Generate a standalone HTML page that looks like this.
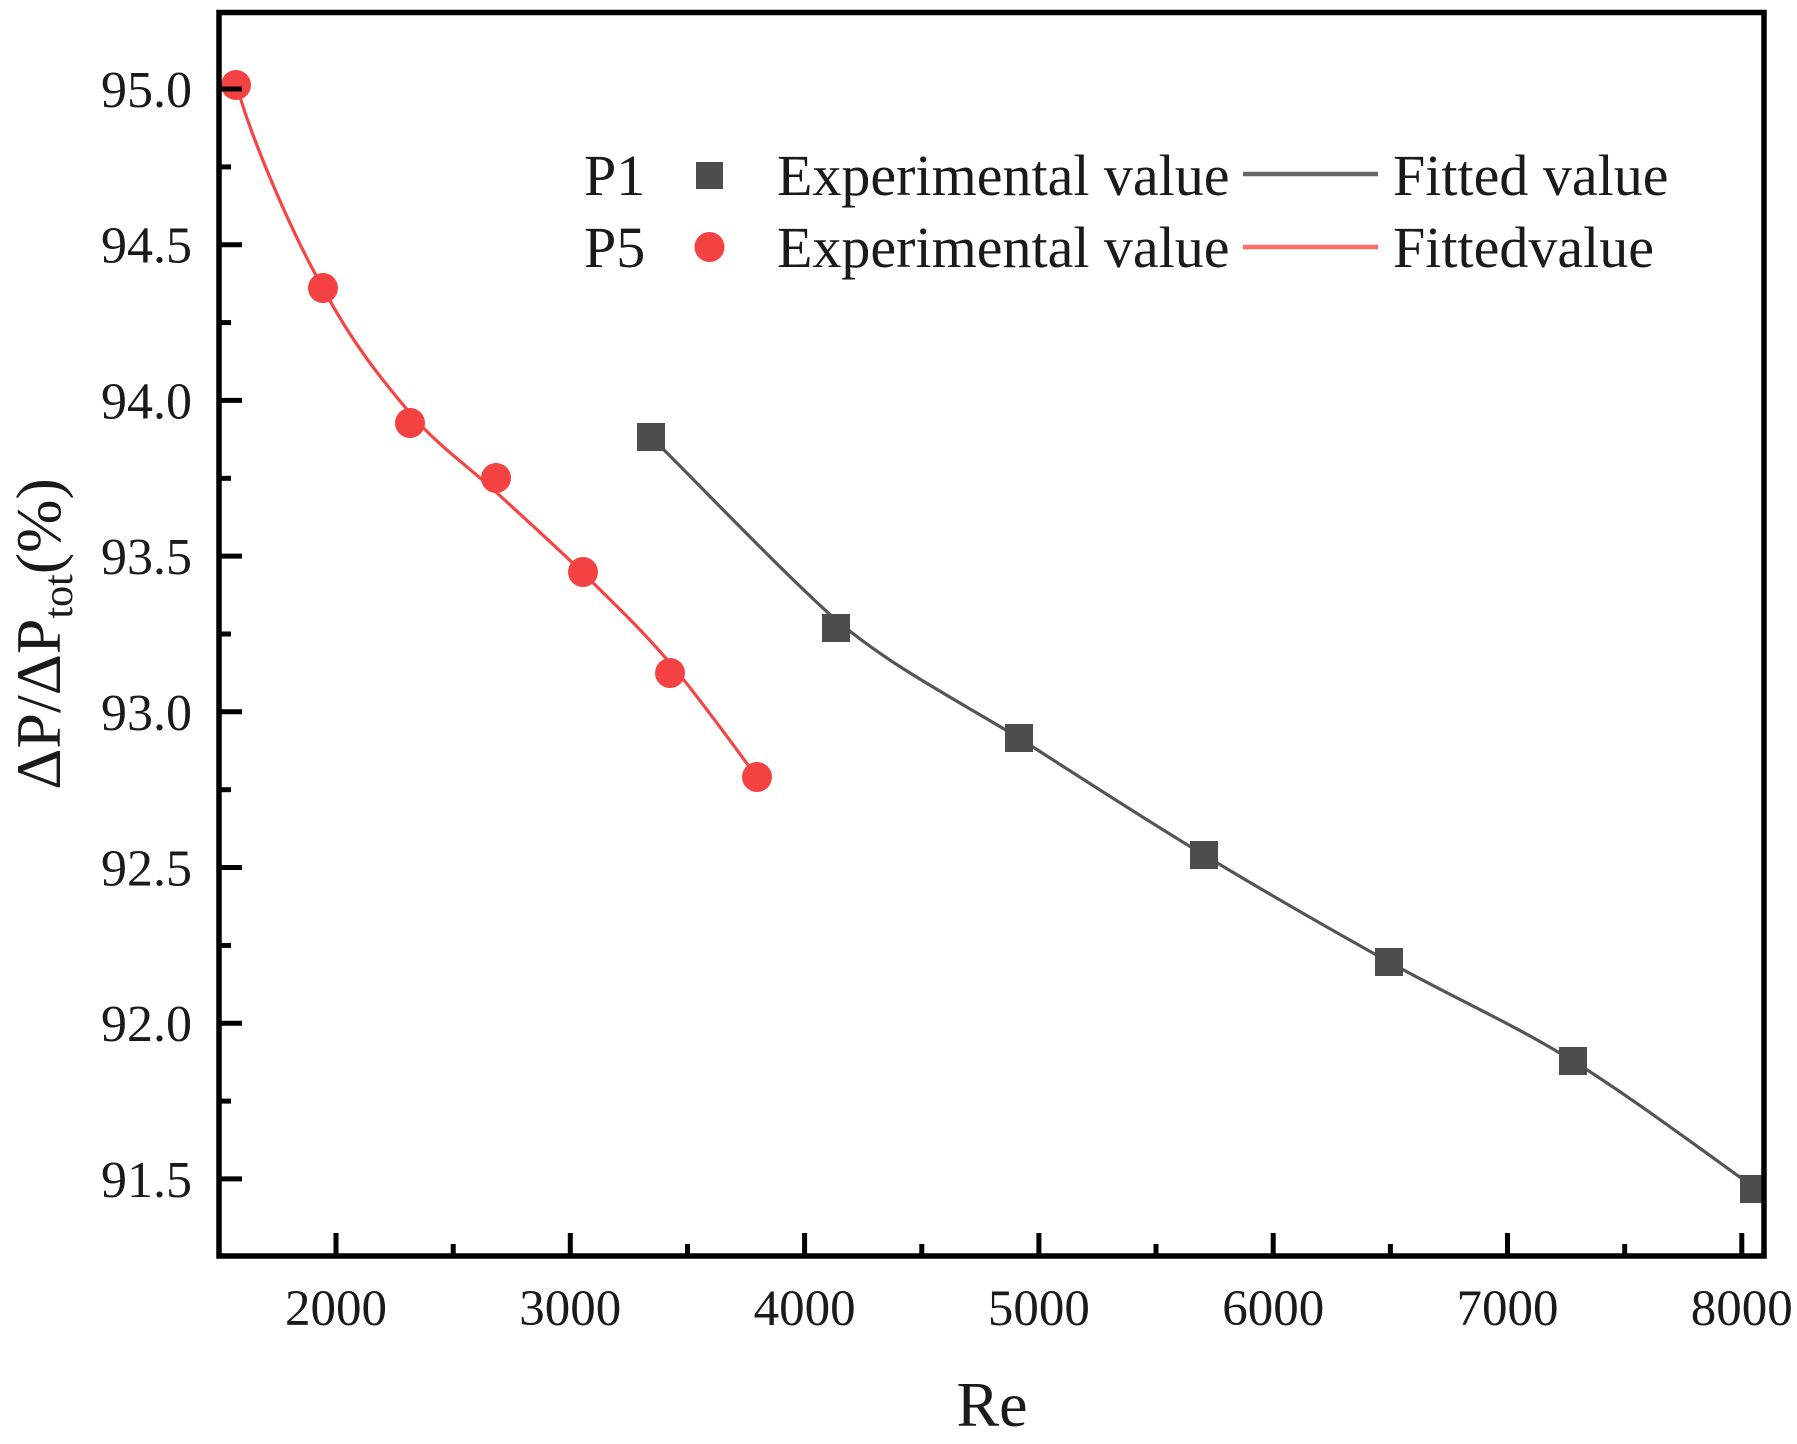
<!DOCTYPE html>
<html>
<head>
<meta charset="utf-8">
<style>
  html, body { margin: 0; padding: 0; background: #ffffff; }
  svg { display: block; }
  text { font-family: "Liberation Serif", "Times New Roman", serif; fill: #1a1a1a; }
</style>
</head>
<body>
<svg width="1797" height="1444" viewBox="0 0 1797 1444" xmlns="http://www.w3.org/2000/svg">
  <rect x="0" y="0" width="1797" height="1444" fill="#ffffff"/>
  <defs>
    <clipPath id="plot">
      <rect x="219" y="12" width="1545" height="1244"/>
    </clipPath>
  </defs>

  <!-- Data -->
  <g clip-path="url(#plot)">
    <!-- gray fitted curve -->
    <path d="M651,437 C685,470 780,570 835,619 C890,666 957,700 1019,738 C1080.5,777.7 1142.3,817.7 1204,855 C1265.7,892.3 1327.5,927.7 1389,962 C1450.5,996.3 1512,1023.3 1573,1061 C1634,1098.7 1724.7,1166.8 1755,1188"
          fill="none" stroke="#555555" stroke-width="3.2"/>
    <!-- red fitted curve -->
    <path d="M237,86 C250,135 290,230 323,288 C351.8,342.5 381.2,379 410,413 C438.8,447 467.2,465.3 496,492 C524.8,518.7 554,544.5 583,573 C612,601.5 641,629 670,663 C699,697 742.5,758 757,777"
          fill="none" stroke="#f44444" stroke-width="3.2"/>

    <!-- gray squares -->
    <g fill="#4d4d4d">
      <rect x="637" y="423" width="28" height="28"/>
      <rect x="822" y="614" width="28" height="28"/>
      <rect x="1005" y="724" width="28" height="28"/>
      <rect x="1190" y="841" width="28" height="28"/>
      <rect x="1375" y="948" width="28" height="28"/>
      <rect x="1559" y="1047" width="28" height="28"/>
      <rect x="1740" y="1175" width="28" height="28"/>
    </g>
    <!-- red circles -->
    <g fill="#f44242">
      <circle cx="236" cy="85" r="15"/>
      <circle cx="323" cy="288" r="15"/>
      <circle cx="410" cy="423" r="15"/>
      <circle cx="496" cy="478" r="15"/>
      <circle cx="583" cy="572" r="15"/>
      <circle cx="670" cy="673" r="15"/>
      <circle cx="757" cy="777" r="15"/>
    </g>
  </g>

  <!-- Axes frame -->
  <rect x="219" y="12.5" width="1545" height="1243.5" fill="none" stroke="#000" stroke-width="5.5"/>

  <!-- X ticks -->
  <g stroke="#000" stroke-width="5">
    <line x1="336" y1="1256" x2="336" y2="1233"/>
    <line x1="570.3" y1="1256" x2="570.3" y2="1233"/>
    <line x1="804.6" y1="1256" x2="804.6" y2="1233"/>
    <line x1="1038.9" y1="1256" x2="1038.9" y2="1233"/>
    <line x1="1273.2" y1="1256" x2="1273.2" y2="1233"/>
    <line x1="1507.5" y1="1256" x2="1507.5" y2="1233"/>
    <line x1="1741.8" y1="1256" x2="1741.8" y2="1233"/>
    <line x1="453.2" y1="1256" x2="453.2" y2="1244"/>
    <line x1="687.5" y1="1256" x2="687.5" y2="1244"/>
    <line x1="921.8" y1="1256" x2="921.8" y2="1244"/>
    <line x1="1156" y1="1256" x2="1156" y2="1244"/>
    <line x1="1390.4" y1="1256" x2="1390.4" y2="1244"/>
    <line x1="1624.7" y1="1256" x2="1624.7" y2="1244"/>
  </g>

  <!-- Y ticks -->
  <g stroke="#000" stroke-width="5">
    <line x1="219" y1="89" x2="242" y2="89"/>
    <line x1="219" y1="244.7" x2="242" y2="244.7"/>
    <line x1="219" y1="400.4" x2="242" y2="400.4"/>
    <line x1="219" y1="556.1" x2="242" y2="556.1"/>
    <line x1="219" y1="711.8" x2="242" y2="711.8"/>
    <line x1="219" y1="867.5" x2="242" y2="867.5"/>
    <line x1="219" y1="1023.2" x2="242" y2="1023.2"/>
    <line x1="219" y1="1178.9" x2="242" y2="1178.9"/>
    <line x1="219" y1="166.9" x2="231" y2="166.9"/>
    <line x1="219" y1="322.6" x2="231" y2="322.6"/>
    <line x1="219" y1="478.3" x2="231" y2="478.3"/>
    <line x1="219" y1="634" x2="231" y2="634"/>
    <line x1="219" y1="789.7" x2="231" y2="789.7"/>
    <line x1="219" y1="945.4" x2="231" y2="945.4"/>
    <line x1="219" y1="1101.1" x2="231" y2="1101.1"/>
  </g>

  <!-- X tick labels -->
  <g font-size="51" text-anchor="middle">
    <text x="336" y="1325">2000</text>
    <text x="570.3" y="1325">3000</text>
    <text x="804.6" y="1325">4000</text>
    <text x="1038.9" y="1325">5000</text>
    <text x="1273.2" y="1325">6000</text>
    <text x="1507.5" y="1325">7000</text>
    <text x="1741.8" y="1325">8000</text>
  </g>

  <!-- Y tick labels -->
  <g font-size="52" text-anchor="end">
    <text x="192" y="107">95.0</text>
    <text x="192" y="262.7">94.5</text>
    <text x="192" y="418.4">94.0</text>
    <text x="192" y="574.1">93.5</text>
    <text x="192" y="729.8">93.0</text>
    <text x="192" y="885.5">92.5</text>
    <text x="192" y="1041.2">92.0</text>
    <text x="192" y="1196.9">91.5</text>
  </g>

  <!-- Axis titles -->
  <text x="992" y="1426" font-size="64" text-anchor="middle">Re</text>
  <text transform="translate(60,634) rotate(-90)" font-size="64" text-anchor="middle">ΔP/ΔP<tspan font-size="42" dy="12">tot</tspan><tspan font-size="64" dy="-12">(%)</tspan></text>

  <!-- Legend -->
  <g font-size="58">
    <text x="584" y="195">P1</text>
    <rect x="696" y="162" width="27" height="27" fill="#4d4d4d"/>
    <text x="777" y="195">Experimental value</text>
    <line x1="1243" y1="174" x2="1378" y2="174" stroke="#666666" stroke-width="4.5"/>
    <text x="1393" y="195">Fitted value</text>

    <text x="584" y="267">P5</text>
    <circle cx="709.5" cy="247" r="15" fill="#f44242"/>
    <text x="777" y="267">Experimental value</text>
    <line x1="1243" y1="247" x2="1378" y2="247" stroke="#ff6b6b" stroke-width="4.5"/>
    <text x="1393" y="267">Fittedvalue</text>
  </g>
</svg>
</body>
</html>
